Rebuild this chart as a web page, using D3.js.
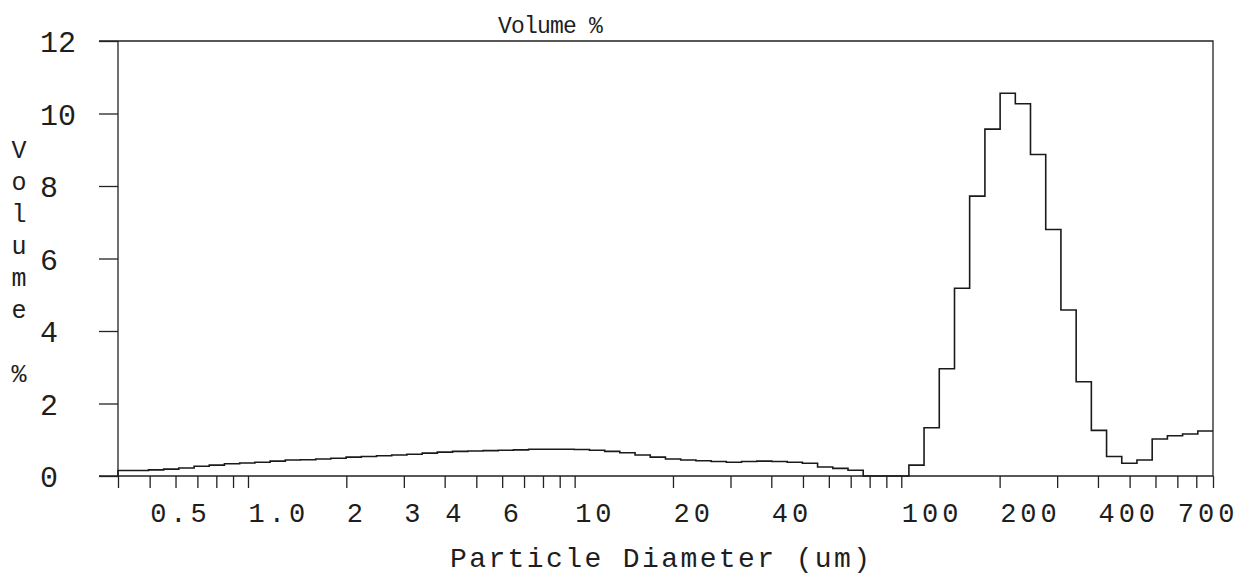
<!DOCTYPE html>
<html>
<head>
  <meta charset="utf-8" />
  <title>Volume %</title>
  <script src="https://d3js.org/d3.v7.min.js"></script>
  <style>
    body {
      margin: 0;
      background: #fff;
      font-family: "Liberation Mono", "DejaVu Sans Mono", monospace;
    }
    svg text {
      fill: #1e1e1e;
    }
    .axis path {
      display: none;
    }
    .axis line {
      stroke: #222;
      stroke-width: 1.3;
    }
  </style>
</head>
<body>
  <div id="chart"></div>

  <script>
// bin edges (um), log spaced
var binEdges = [
  0.400, 0.445, 0.496, 0.552, 0.614, 0.684, 0.761, 0.847, 0.943, 1.050,
  1.169, 1.301, 1.448, 1.612, 1.794, 1.997, 2.223, 2.475, 2.755, 3.066,
  3.414, 3.800, 4.229, 4.708, 5.241, 5.835, 6.494, 7.229, 8.047, 8.958,
  9.972, 11.10, 12.36, 13.75, 15.31, 17.04, 18.97, 21.12, 23.51, 26.17,
  29.13, 32.43, 36.10, 40.18, 44.73, 49.79, 55.43, 61.70, 68.68, 76.45,
  85.10, 94.73, 105.5, 117.4, 130.7, 145.5, 161.9, 180.3, 200.7, 223.4,
  248.6, 276.8, 308.1, 343.0, 381.8, 425.0, 473.1, 526.6, 586.2, 652.6,
  726.4, 808.6, 900.0
];

// volume % in each bin
var volume = [
  0.15, 0.15, 0.17, 0.19, 0.22, 0.27, 0.30, 0.34, 0.36, 0.38,
  0.41, 0.44, 0.45, 0.47, 0.49, 0.52, 0.54, 0.56, 0.58, 0.60,
  0.63, 0.66, 0.68, 0.69, 0.70, 0.71, 0.72, 0.74, 0.74, 0.74,
  0.73, 0.71, 0.68, 0.64, 0.58, 0.52, 0.47, 0.44, 0.42, 0.40,
  0.38, 0.40, 0.41, 0.40, 0.38, 0.35, 0.25, 0.21, 0.16, 0,
  0, 0, 0.30, 1.33, 2.96, 5.18, 7.72, 9.57, 10.56, 10.27,
  8.87, 6.80, 4.58, 2.60, 1.26, 0.54, 0.35, 0.44, 1.02, 1.11,
  1.16, 1.24
];

var xTicks = [
  0.4, 0.5, 0.6, 0.7, 0.8, 0.9,
  1, 2, 3, 4, 5, 6, 7, 8, 9,
  10, 20, 30, 40, 50, 60, 70, 80, 90,
  100, 200, 300, 400, 500, 600, 700, 800, 900
];
var xLabelValues = [0.5, 1, 2, 3, 4, 6, 10, 20, 40, 100, 200, 400, 700];
var xLabelTexts = ["0.5", "1.0", "2", "3", "4", "6", "10", "20", "40", "100", "200", "400", "700"];
var yTicks = [0, 2, 4, 6, 8, 10, 12];

var width = 1245;
var height = 575;
var margin = { top: 41, right: 32, bottom: 99, left: 118 };

var svg = d3.select("#chart").append("svg")
  .attr("width", width)
  .attr("height", height);

var x = d3.scaleLog()
  .domain([0.4, 900])
  .range([margin.left, width - margin.right]);

var y = d3.scaleLinear()
  .domain([0, 12])
  .range([height - margin.bottom, margin.top]);

// frame: top and right border, long ends on left
var x0 = margin.left, x1 = width - margin.right;
var yTop = y(12), yBot = y(0);
svg.append("path")
  .attr("d", "M" + (x0 - 19) + "," + yTop + "H" + x1 + "V" + yBot + "H" + (x0 - 19) + "M" + x0 + "," + yTop + "V" + yBot)
  .attr("fill", "none")
  .attr("stroke", "#222")
  .attr("stroke-width", 1.3);

// y axis
var yAxis = svg.append("g")
  .attr("class", "axis")
  .attr("transform", "translate(" + margin.left + ",0)")
  .call(d3.axisLeft(y).tickValues(yTicks).tickSize(19).tickSizeOuter(0));
yAxis.selectAll("text")
  .attr("x", 40 - margin.left)
  .attr("dy", "0.35em")
  .attr("text-anchor", "start")
  .style("font-family", "'Liberation Mono', monospace")
  .style("font-size", "30px")
  .attr("fill", "#1e1e1e");

// x axis
var labelOf = function (d) {
  var i = xLabelValues.indexOf(d);
  return i < 0 ? "" : xLabelTexts[i];
};
var xAxis = svg.append("g")
  .attr("class", "axis")
  .attr("transform", "translate(0," + yBot + ")")
  .call(d3.axisBottom(x).tickValues(xTicks).tickSize(12).tickSizeOuter(0).tickFormat(labelOf));
xAxis.selectAll("text")
  .attr("y", 46)
  .attr("dy", 0)
  .attr("text-anchor", "start")
  .style("font-family", "'Liberation Mono', monospace")
  .style("font-size", "27px")
  .style("letter-spacing", "4px")
  .attr("fill", "#1e1e1e");

// step line
var pts = [[binEdges[0], 0]];
volume.forEach(function (v, i) {
  pts.push([binEdges[i], v]);
  pts.push([binEdges[i + 1], v]);
});
var line = d3.line()
  .x(function (d) { return x(d[0]); })
  .y(function (d) { return y(d[1]); });
svg.append("path")
  .datum(pts)
  .attr("d", line)
  .attr("fill", "none")
  .attr("stroke", "#1a1a1a")
  .attr("stroke-width", 1.6);

// titles
svg.append("text")
  .attr("x", 498)
  .attr("y", 33)
  .style("font-size", "23px")
  .style("letter-spacing", "-0.8px")
  .text("Volume %");

svg.append("text")
  .attr("x", 450)
  .attr("y", 567)
  .style("font-size", "28px")
  .style("letter-spacing", "2.4px")
  .text("Particle Diameter (um)");

var yTitle = "Volume %".split("");
svg.append("g").selectAll("text")
  .data(yTitle)
  .join("text")
  .attr("x", 19)
  .attr("y", function (d, i) { return 158 + i * 32; })
  .attr("text-anchor", "middle")
  .style("font-size", "25px")
  .text(function (d) { return d; });
  </script>
</body>
</html>
